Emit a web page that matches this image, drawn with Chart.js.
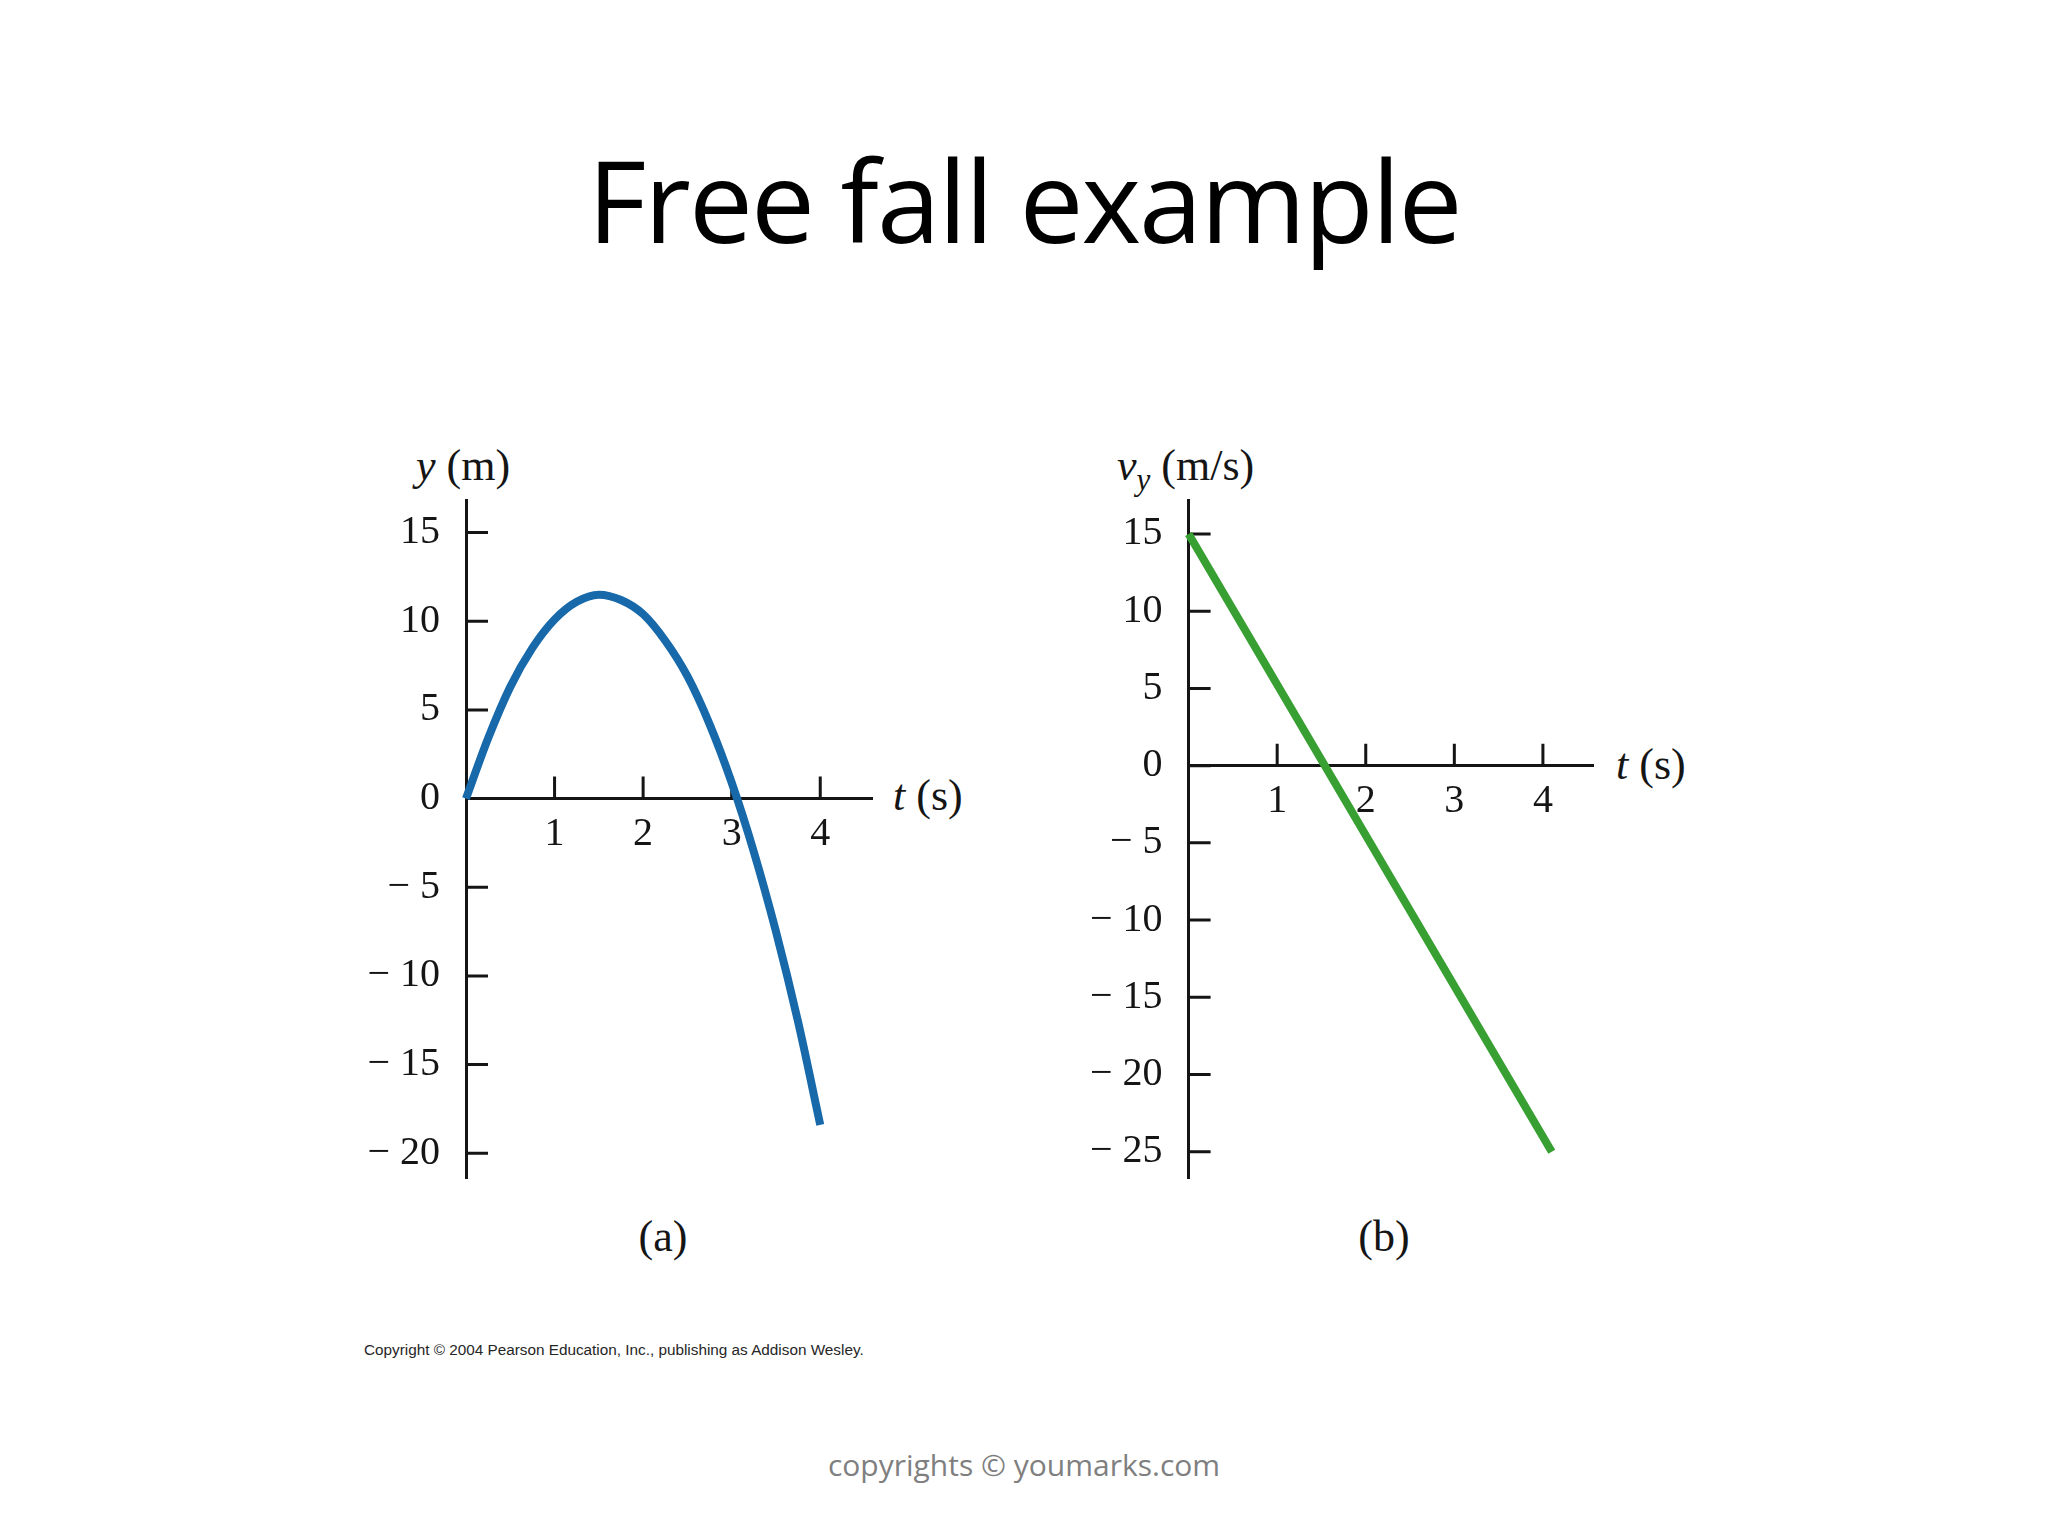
<!DOCTYPE html>
<html>
<head>
<meta charset="utf-8">
<script src="https://cdn.jsdelivr.net/npm/chart.js@4.4.0/dist/chart.umd.min.js"></script>
<style>
  body { margin: 0; background: #fff; width: 2048px; height: 1536px; position: relative; overflow: hidden; }
  .txt { position: absolute; white-space: nowrap; line-height: 1; }
  .serif { font-family: "Liberation Serif", "Times New Roman", serif; font-size: 44px; color: #151515; }
  canvas { position: absolute; }
</style>
</head>
<body>
<div class="txt" style="left:0;width:2048px;text-align:center;top:142px;font-family:'Open Sans',sans-serif;font-size:114px;letter-spacing:-2px;color:#000;">Free fall example</div>

<div class="txt serif" style="left:416px;top:444px;"><i>y</i> (m)</div>
<div class="txt serif" style="left:893px;top:774px;"><i>t</i> (s)</div>
<div class="txt serif" style="left:1117px;top:444px;"><i>v<sub style="font-size:31px;vertical-align:-10px;">y</sub></i> (m/s)</div>
<div class="txt serif" style="left:1616px;top:743px;"><i>t</i> (s)</div>
<div class="txt serif" style="left:613px;width:100px;text-align:center;top:1215px;">(a)</div>
<div class="txt serif" style="left:1334px;width:100px;text-align:center;top:1215px;">(b)</div>

<div class="txt" style="left:364px;top:1342px;font-family:'Liberation Sans',Arial,sans-serif;font-size:15.3px;color:#262626;">Copyright © 2004 Pearson Education, Inc., publishing as Addison Wesley.</div>
<div class="txt" style="left:0;width:2048px;text-align:center;top:1450px;font-family:'Open Sans',sans-serif;font-size:30px;color:#7f7f7f;">copyrights © youmarks.com</div>

<canvas id="chartA" width="720" height="800" style="left:300px;top:420px;"></canvas>
<canvas id="chartB" width="720" height="800" style="left:1020px;top:420px;"></canvas>

<script>
// (a) position y (m) against time t (s)
const timeA = [0, 0.25, 0.5, 0.75, 1, 1.25, 1.5, 1.75, 2, 2.25, 2.5, 2.75, 3, 3.25, 3.5, 3.75, 4];
const posA  = [0, 3.4, 6.3, 8.5, 10.1, 11.1, 11.5, 11.2, 10.4, 8.9, 6.9, 4.2, 0.9, -3.0, -7.5, -12.6, -18.4];

// (b) velocity vy (m/s) against time t (s)
const timeB = [0, 4.1];
const velB  = [15, -25];

// tick values
const tTicks  = [1, 2, 3, 4];
const yTicksA = [15, 10, 5, 0, -5, -10, -15, -20];
const yTicksB = [15, 10, 5, 0, -5, -10, -15, -20, -25];

const serifFont = { family: '"Liberation Serif", "Times New Roman", serif', size: 40 };
const ink = '#151515';

function fmtTick(v) {
    return v < 0 ? '\u2212 ' + (-v) : String(v);
}

// tick marks drawn inward, like the textbook figure
const innerTicks = {
    id: 'innerTicks',
    beforeDatasetsDraw(chart) {
        const ctx = chart.ctx;
        const x = chart.scales.x, y = chart.scales.y;
        const x0 = x.getPixelForValue(0), y0 = y.getPixelForValue(0);
        ctx.save();
        ctx.strokeStyle = ink;
        ctx.lineWidth = 3;
        ctx.beginPath();
        y.ticks.forEach(t => {
            const py = y.getPixelForValue(t.value);
            ctx.moveTo(x0, py);
            ctx.lineTo(x0 + 22, py);
        });
        x.ticks.forEach(t => {
            const px = x.getPixelForValue(t.value);
            ctx.moveTo(px, y0);
            ctx.lineTo(px, y0 - 22);
        });
        ctx.stroke();
        ctx.restore();
    }
};

function noPad(s) {
    s.paddingTop = 0;
    s.paddingBottom = 0;
    s.paddingLeft = 0;
    s.paddingRight = 0;
}

function makeChart(id, times, values, color, xMax, yMin, yMax, yTicks, padLeft, padRight) {
    const points = times.map((t, i) => ({ x: t, y: values[i] }));
    return new Chart(document.getElementById(id), {
        type: 'line',
        data: {
            datasets: [{
                data: points,
                borderColor: color,
                borderWidth: 8,
                pointRadius: 0,
                fill: false,
                cubicInterpolationMode: 'monotone',
                clip: false
            }]
        },
        options: {
            responsive: false,
            animation: false,
            layout: { padding: { left: padLeft, right: padRight, top: 80, bottom: 42 } },
            scales: {
                x: {
                    type: 'linear',
                    min: 0,
                    max: xMax,
                    position: { y: 0 },
                    afterFit: s => { s.height = 0; noPad(s); },
                    afterBuildTicks: s => { s.ticks = tTicks.map(v => ({ value: v })); },
                    grid: { drawOnChartArea: false, drawTicks: false },
                    border: { display: true, color: ink, width: 3 },
                    ticks: { font: serifFont, color: ink, padding: 12, maxRotation: 0, callback: fmtTick }
                },
                y: {
                    type: 'linear',
                    min: yMin,
                    max: yMax,
                    position: 'left',
                    afterFit: s => { s.width = 120; noPad(s); },
                    afterBuildTicks: s => { s.ticks = yTicks.map(v => ({ value: v })); },
                    grid: { drawOnChartArea: false, drawTicks: false },
                    border: { display: true, color: ink, width: 3 },
                    ticks: { font: serifFont, color: ink, padding: 26, callback: fmtTick }
                }
            },
            plugins: {
                legend: { display: false },
                tooltip: { enabled: false }
            }
        },
        plugins: [innerTicks]
    });
}

makeChart('chartA', timeA, posA, '#1769aa', 4.59, -21.4, 16.84, yTicksA, 46, 147.5);
makeChart('chartB', timeB, velB, '#38a032', 4.57, -26.7, 17.2, yTicksB, 48.6, 146.6);
</script>
</body>
</html>
